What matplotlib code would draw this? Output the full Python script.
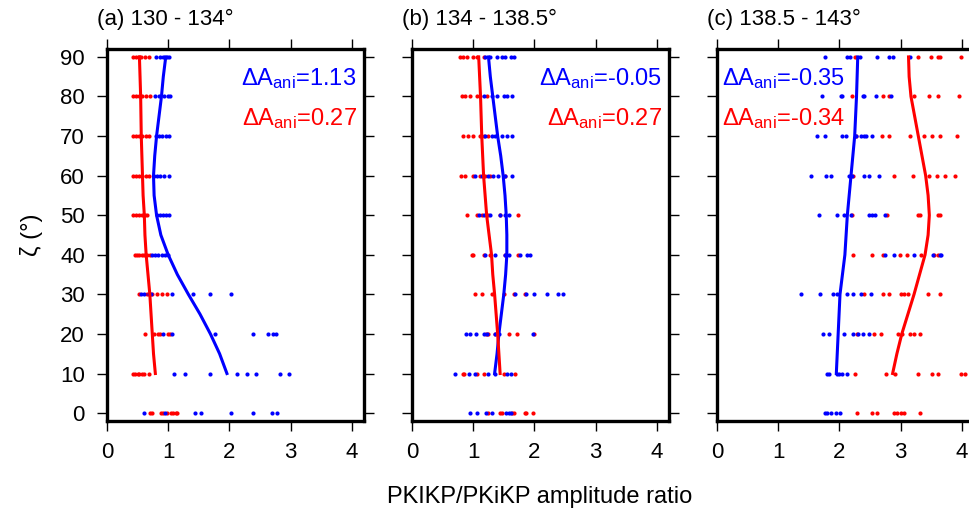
import matplotlib
matplotlib.use("Agg")
import matplotlib.pyplot as plt
import numpy as np

plt.rcParams['font.family'] = ['Liberation Sans', 'DejaVu Sans']
plt.rcParams['mathtext.fontset'] = 'custom'
plt.rcParams['mathtext.rm'] = 'Liberation Sans'
plt.rcParams['mathtext.it'] = 'Liberation Sans'

zeta_levels = [0, 10, 20, 30, 40, 50, 60, 70, 80, 90]
curve_zeta = [10, 15, 20, 25, 30, 35, 40, 45, 50, 55, 60, 65, 70, 75, 80, 85, 90]

titles = ["(a) 130 - 134°", "(b) 134 - 138.5°", "(c) 138.5 - 143°"]
blue_labels = ["ΔA$_{ani}$=1.13", "ΔA$_{ani}$=-0.05", "ΔA$_{ani}$=-0.35"]
red_labels = ["ΔA$_{ani}$=0.27", "ΔA$_{ani}$=0.27", "ΔA$_{ani}$=-0.34"]

# Scatter data: per panel, per zeta level
a_blue = {
    0: [0.60, 0.95, 1.43, 1.54, 2.02, 2.39, 2.69, 2.78],
    10: [1.10, 1.28, 1.69, 2.13, 2.29, 2.44, 2.82, 2.98],
    20: [0.92, 1.07, 1.77, 2.39, 2.63, 2.71, 2.77],
    30: [0.55, 0.60, 0.68, 0.72, 1.07, 1.40, 1.68, 2.02],
    40: [0.73, 0.79, 0.84, 0.90, 0.95, 1.00],
    50: [0.81, 0.86, 0.92, 0.97, 1.02],
    60: [0.76, 0.81, 0.87, 0.93, 1.01],
    70: [0.80, 0.85, 0.90, 0.96, 1.01],
    80: [0.78, 0.85, 0.93, 1.00, 1.03],
    90: [0.80, 0.86, 0.92, 0.98, 1.02],
}
a_red = {
    0: [0.70, 0.74, 0.88, 0.91, 0.98, 1.04, 1.08, 1.12, 1.15],
    10: [0.42, 0.46, 0.50, 0.53, 0.57, 0.61, 0.69],
    20: [0.62, 0.76, 0.84, 0.87, 1.00, 1.03],
    30: [0.53, 0.65, 0.73, 0.81, 0.90, 0.98],
    40: [0.45, 0.49, 0.53, 0.57, 0.61, 0.65, 0.70],
    50: [0.42, 0.47, 0.52, 0.57, 0.62, 0.66],
    60: [0.42, 0.47, 0.52, 0.57, 0.63, 0.68],
    70: [0.43, 0.48, 0.53, 0.58, 0.63, 0.69],
    80: [0.43, 0.48, 0.53, 0.58, 0.64, 0.70],
    90: [0.43, 0.47, 0.52, 0.56, 0.62, 0.68],
}
b_blue = {
    0: [0.95, 1.06, 1.21, 1.30, 1.54, 1.58, 1.62],
    10: [0.70, 0.93, 1.03, 1.24, 1.35, 1.55, 1.61],
    20: [0.88, 0.95, 1.04, 1.17, 1.22, 1.35, 1.42, 1.97],
    30: [1.68, 1.86, 2.00, 2.21, 2.39, 2.47],
    40: [1.20, 1.36, 1.52, 1.58, 1.77, 1.88, 1.93],
    50: [1.09, 1.17, 1.28, 1.44, 1.52, 1.58],
    60: [1.03, 1.14, 1.25, 1.33, 1.41, 1.52, 1.63],
    70: [1.20, 1.31, 1.36, 1.47, 1.55, 1.63],
    80: [1.17, 1.31, 1.39, 1.50, 1.55, 1.63],
    90: [1.20, 1.28, 1.39, 1.47, 1.52, 1.61, 1.66],
}
b_red = {
    0: [1.24, 1.43, 1.47, 1.63, 1.66, 1.84, 1.86, 1.98],
    10: [0.83, 0.85, 1.06, 1.17, 1.50, 1.68],
    20: [1.21, 1.24, 1.36, 1.58, 1.72, 1.99],
    30: [1.03, 1.14, 1.30, 1.50, 1.66, 1.84],
    40: [0.98, 1.00, 1.17, 1.28, 1.52, 1.74],
    50: [0.90, 1.06, 1.14, 1.25, 1.44, 1.74],
    60: [0.80, 0.87, 1.00, 1.11, 1.20, 1.28, 1.52],
    70: [0.84, 0.92, 1.00, 1.11, 1.17, 1.25],
    80: [0.81, 0.87, 0.95, 1.06, 1.11, 1.22],
    90: [0.79, 0.84, 0.90, 1.00, 1.06, 1.17],
}
c_blue = {
    0: [1.76, 1.80, 1.87, 1.94, 2.01],
    10: [1.80, 1.83, 1.96, 2.00, 2.04, 2.12],
    20: [1.74, 1.83, 2.07, 2.23, 2.31, 2.39, 2.49],
    30: [1.38, 1.68, 1.90, 1.96, 2.13, 2.23, 2.36, 2.51],
    40: [2.74, 2.89, 3.22, 3.53, 3.64, 3.66],
    50: [1.67, 1.96, 2.08, 2.19, 2.49, 2.54, 2.58, 2.74],
    60: [1.53, 1.78, 1.87, 2.16, 2.21, 2.40, 2.49, 2.65],
    70: [1.63, 1.76, 2.05, 2.10, 2.27, 2.35, 2.40, 2.43, 2.54],
    80: [1.71, 2.02, 2.05, 2.38, 2.40, 2.60, 2.84],
    90: [1.76, 2.13, 2.17, 2.33, 2.61, 2.81, 2.87, 3.15],
}
c_red = {
    0: [2.28, 2.54, 2.61, 2.90, 2.94, 3.00, 3.06, 3.31],
    10: [2.25, 2.76, 2.91, 3.28, 3.51, 3.61, 3.99, 4.05],
    20: [2.28, 2.57, 2.68, 2.95, 3.02, 3.15, 3.22, 3.32],
    30: [2.40, 2.72, 2.81, 3.00, 3.06, 3.12, 3.45, 3.64],
    40: [2.23, 2.54, 2.72, 2.99, 3.11, 3.34, 3.55, 3.61],
    50: [2.21, 2.78, 3.28, 3.32, 3.61, 3.65],
    60: [2.23, 2.90, 3.20, 3.47, 3.60, 3.72, 3.89],
    70: [2.27, 2.69, 2.81, 3.16, 3.38, 3.51, 3.65, 3.92],
    80: [2.21, 2.72, 2.81, 3.22, 3.47, 3.61, 3.96],
    90: [2.25, 3.28, 3.50, 3.61, 3.64, 3.99],
}

# Fitted curves (x at curve_zeta)
a_blue_curve = [1.96, 1.84, 1.69, 1.52, 1.33, 1.15, 1.00, 0.88, 0.81, 0.77, 0.76,
                0.78, 0.81, 0.85, 0.89, 0.92, 0.96]
a_red_curve = [0.79, 0.76, 0.74, 0.72, 0.70, 0.67, 0.64, 0.62, 0.61, 0.59, 0.58,
               0.57, 0.56, 0.555, 0.55, 0.54, 0.53]
b_blue_curve = [1.35, 1.39, 1.42, 1.46, 1.50, 1.53, 1.55, 1.55, 1.54, 1.52, 1.49,
                1.45, 1.40, 1.36, 1.32, 1.28, 1.25]
b_red_curve = [1.44, 1.42, 1.40, 1.375, 1.35, 1.32, 1.30, 1.26, 1.22, 1.195, 1.17,
               1.155, 1.14, 1.13, 1.12, 1.105, 1.09]
c_blue_curve = [1.95, 1.965, 1.98, 1.995, 2.01, 2.05, 2.09, 2.11, 2.13, 2.16, 2.19,
                2.22, 2.25, 2.265, 2.28, 2.29, 2.30]
c_red_curve = [2.87, 2.94, 3.02, 3.12, 3.22, 3.31, 3.40, 3.45, 3.47, 3.45, 3.41,
               3.35, 3.29, 3.23, 3.17, 3.14, 3.13]

panels = [
    (a_blue, a_red, a_blue_curve, a_red_curve),
    (b_blue, b_red, b_blue_curve, b_red_curve),
    (c_blue, c_red, c_blue_curve, c_red_curve),
]

W, H = 969, 512
fig = plt.figure(figsize=(W / 100, H / 100), dpi=100)

lefts = [107, 412, 717]
ax_w = 257
top_px, bot_px = 49, 421

BLUE = '#0000ff'
RED = '#ff0000'

for i, (bl, rd, bc, rc) in enumerate(panels):
    ax = fig.add_axes([lefts[i] / W, 1 - bot_px / H, ax_w / W, (bot_px - top_px) / H])
    for z in zeta_levels:
        ax.plot(rd[z], [z] * len(rd[z]), 'o', color=RED, ms=3.0, mew=0, zorder=3)
        ax.plot(bl[z], [z] * len(bl[z]), 'o', color=BLUE, ms=3.0, mew=0, zorder=3)
    ax.plot(bc, curve_zeta, color=BLUE, lw=2.2, zorder=4)
    ax.plot(rc, curve_zeta, color=RED, lw=2.2, zorder=4)
    ax.set_xlim(0, 4.2)
    ax.set_ylim(-2, 92)
    ax.set_xticks([0, 1, 2, 3, 4])
    ax.set_yticks(zeta_levels)
    ax.tick_params(direction='out', length=7, width=1.0, top=True, right=True,
                   labelsize=16)
    ax.tick_params(axis='x', pad=8)
    ax.tick_params(axis='y', pad=9)
    if i > 0:
        ax.set_yticklabels([])
    for s in ax.spines.values():
        s.set_linewidth(2.4)
    ax.text(-0.04, 1.065, titles[i], transform=ax.transAxes, fontsize=16,
            ha='left', va='baseline')
    if i < 2:
        ax.text(4.08, 84.5, blue_labels[i], color=BLUE, fontsize=17, ha='right', va='center')
        ax.text(4.08, 74.4, red_labels[i], color=RED, fontsize=17, ha='right', va='center')
    else:
        ax.text(0.08, 84.5, blue_labels[i], color=BLUE, fontsize=17, ha='left', va='center')
        ax.text(0.08, 74.4, red_labels[i], color=RED, fontsize=17, ha='left', va='center')
    if i == 0:
        ax.set_ylabel('ζ (°)', fontsize=17, labelpad=12)

fig.text(540 / W, 1 - 497 / H, 'PKIKP/PKiKP amplitude ratio', fontsize=17,
         ha='center', va='center')

fig.savefig('out.png', dpi=100)
